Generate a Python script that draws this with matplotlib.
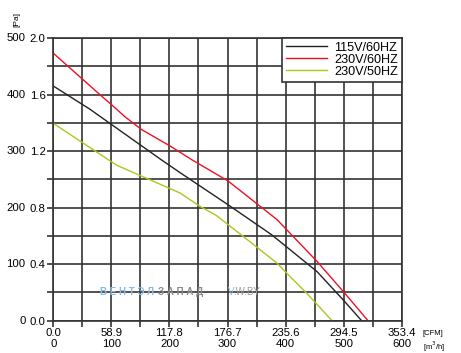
import matplotlib.pyplot as plt
import numpy as np

plt.rcParams['font.family'] = ['Liberation Sans', 'DejaVu Sans']

# airflow in m3/h, static pressure in Pa
x_115_60 = [0, 63, 184, 218, 301, 376, 454, 499, 531]
p_115_60 = [415, 374, 286, 262, 205, 152, 87, 37, 0]
x_230_60 = [0, 80, 109, 123, 152, 201, 238, 301, 385, 454, 499, 542]
p_230_60 = [473, 400, 374, 361, 338, 309, 285, 247, 179, 105, 52, 0]
x_230_50 = [0, 109, 218, 253, 281, 342, 385, 402, 436, 480]
p_230_50 = [349, 275, 226, 202, 186, 137, 102, 84, 49, 0]

labels = ['115V/60HZ', '230V/60HZ', '230V/50HZ']
m3h_ticks = [0, 100, 200, 300, 400, 500, 600]
cfm_labels = ['0.0', '58.9', '117.8', '176.7', '235.6', '294.5', '353.4']
pa_ticks = [0, 100, 200, 300, 400, 500]
inh2o_labels = ['0.0', '0.4', '0.8', '1.2', '1.6', '2.0']

fig = plt.figure(figsize=(4.61, 3.53), dpi=100)
ax = fig.add_axes([0.1157, 0.0915, 0.7557, 0.8009])

ax.plot(x_115_60, p_115_60, color='#222222', lw=1.0, label=labels[0])
ax.plot(x_230_60, p_230_60, color='#ee1122', lw=1.0, label=labels[1])
ax.plot(x_230_50, p_230_50, color='#a8c81e', lw=1.0, label=labels[2])

ax.set_xlim(0, 600)
ax.set_ylim(0, 500)
ax.set_xticks(np.arange(0, 601, 50), minor=True)
ax.set_yticks(np.arange(0, 501, 50), minor=True)
ax.set_xticks(m3h_ticks)
ax.set_xticklabels([c + '\n' + str(m) for c, m in zip(cfm_labels, m3h_ticks)],
                   linespacing=1.15)
ax.set_yticks(pa_ticks)
ax.set_yticklabels(inh2o_labels)
ax.tick_params(which='both', length=4, width=1.2, color='#333333',
               labelsize=8.2, pad=1.5)
ax.tick_params(axis='x', pad=1)
ax.grid(which='both', color='#333333', lw=1.2)
for s in ax.spines.values():
    s.set_color('#333333')
    s.set_linewidth(1.2)

for p in pa_ticks:
    ax.annotate(str(p), xy=(0, p), xycoords=('axes fraction', 'data'),
                xytext=(-20, 0), textcoords='offset points',
                ha='right', va='center', fontsize=8.2)

fig.text(0.036, 0.944, '[Pa]', rotation=90, fontsize=6, ha='center', va='center')
fig.text(0.917, 0.056, '[CFM]', fontsize=5.5, ha='left', va='center')
fig.text(0.917, 0.018, '[m$^3$/h]', fontsize=5.5, ha='left', va='center')

# watermark
ax.text(80, 50, 'В Е Н Т Э Л', color='#8cbbe0', fontsize=7, fontweight='bold',
        ha='left', va='center')
ax.text(180, 50, 'З А П А Д', color='#8a8a8a', fontsize=7, fontweight='bold',
        ha='left', va='center')
ax.text(300, 50, 'V', color='#8cbbe0', fontsize=7, ha='left', va='center')
ax.text(309, 50, '.W.BY', color='#9a9a9a', fontsize=7, ha='left', va='center')

leg = ax.legend(loc='upper right', borderaxespad=0, fancybox=False,
                fontsize=9.1, handlelength=3.2, labelspacing=0.0,
                borderpad=0.3, handletextpad=0.6, framealpha=1)
leg.get_frame().set_edgecolor('#333333')
leg.get_frame().set_linewidth(1.2)

fig.savefig('out.png', dpi=100)
